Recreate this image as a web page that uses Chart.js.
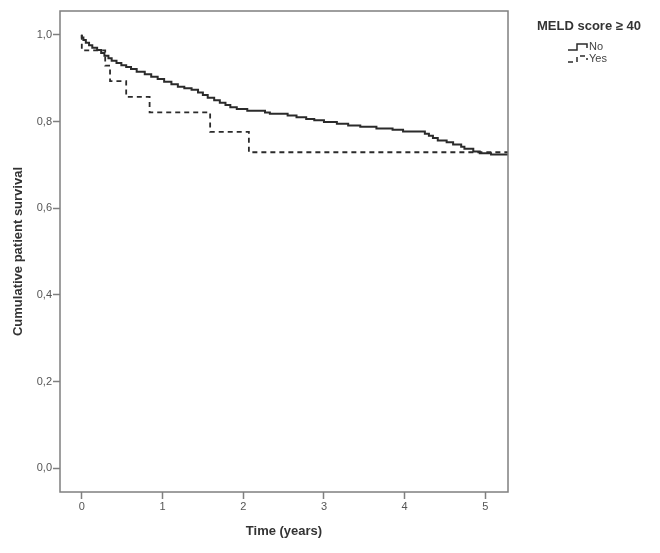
<!DOCTYPE html>
<html>
<head>
<meta charset="utf-8">
<title>Cumulative patient survival</title>
<script src="https://cdn.jsdelivr.net/npm/chart.js"></script>
<style>
  body { margin: 0; background: #fff; }
  #wrap { width: 660px; height: 553px; }
</style>
</head>
<body>
<div id="wrap"><canvas id="survivalChart" width="660" height="553"></canvas></div>
<script>
// Kaplan-Meier steps
const noTimes = [0, 0.02, 0.05, 0.09, 0.13, 0.19, 0.24, 0.28, 0.33, 0.37, 0.43, 0.49, 0.55, 0.61, 0.68, 0.78, 0.86, 0.94,
    1.02, 1.11, 1.19, 1.27, 1.36, 1.44, 1.50, 1.56, 1.64, 1.71, 1.78, 1.84, 1.92, 2.05, 2.27, 2.33, 2.55, 2.66, 2.78, 2.88,
    3.00, 3.16, 3.30, 3.45, 3.65, 3.85, 3.98, 4.25, 4.30, 4.35, 4.41, 4.52, 4.60, 4.70, 4.74, 4.85, 4.93, 5.07, 5.20, 5.28];
const noSurv = [1.000, 0.994, 0.988, 0.982, 0.976, 0.970, 0.965, 0.958, 0.952, 0.946, 0.940, 0.935, 0.930, 0.926, 0.921, 0.915, 0.909, 0.903,
    0.898, 0.892, 0.886, 0.880, 0.877, 0.873, 0.867, 0.861, 0.855, 0.849, 0.843, 0.838, 0.833, 0.829, 0.825, 0.821, 0.818, 0.814, 0.810, 0.806,
    0.803, 0.799, 0.795, 0.791, 0.788, 0.784, 0.781, 0.777, 0.772, 0.767, 0.762, 0.756, 0.752, 0.747, 0.742, 0.737, 0.731, 0.727, 0.724, 0.724];
const yesTimes = [0, 0.29, 0.35, 0.55, 0.84, 1.59, 2.07, 2.50, 5.28];
const yesSurv = [1.000, 0.964, 0.929, 0.893, 0.857, 0.821, 0.776, 0.729, 0.729];

const groupLabels = ['No', 'Yes'];
const legendTitle = 'MELD score \u2265 40';
const xTicks = [0, 1, 2, 3, 4, 5];
const yTicks = [0, 0.2, 0.4, 0.6, 0.8, 1.0];

const toPoints = (ts, ss) => ts.map((t, i) => ({x: t, y: ss[i]}));

const lineColor = '#2b2b2b';
const frameColor = '#7f7f7f';
const tickText = '#555555';
const fontFamily = '"Liberation Sans", Arial, sans-serif';

// frame around the plot area
const framePlugin = {
    id: 'frame',
    afterDraw(chart) {
        const a = chart.chartArea, ctx = chart.ctx;
        ctx.save();
        ctx.strokeStyle = frameColor;
        ctx.lineWidth = 1.5;
        ctx.strokeRect(a.left, a.top, a.right - a.left, a.bottom - a.top);
        ctx.restore();
    }
};

// SPSS style legend on the right
const legendPlugin = {
    id: 'kmLegend',
    afterDraw(chart) {
        const ctx = chart.ctx;
        const x0 = chart.chartArea.right + 29;
        ctx.save();
        ctx.fillStyle = '#333';
        ctx.font = 'bold 13px ' + fontFamily;
        ctx.textBaseline = 'middle';
        ctx.fillText(legendTitle, x0, 26);

        ctx.font = '11px ' + fontFamily;
        chart.data.datasets.forEach((ds, i) => {
            const y = 47 + i * 12;
            const sx = x0 + 31;
            ctx.strokeStyle = lineColor;
            ctx.lineWidth = 1.5;
            ctx.setLineDash(ds.borderDash || []);
            ctx.beginPath();
            ctx.moveTo(sx, y + 3);
            ctx.lineTo(sx + 9, y + 3);
            ctx.lineTo(sx + 9, y - 3);
            ctx.lineTo(sx + 19, y - 3);
            ctx.lineTo(sx + 19, y + 1);
            ctx.stroke();
            ctx.setLineDash([]);
            ctx.fillStyle = '#444';
            ctx.fillText(ds.label, sx + 21, y);
        });
        ctx.restore();
    }
};

const ctx = document.getElementById('survivalChart').getContext('2d');
new Chart(ctx, {
    type: 'line',
    data: {
        datasets: [{
            label: groupLabels[0],
            data: toPoints(noTimes, noSurv),
            borderColor: lineColor,
            borderWidth: 2,
            stepped: 'after',
            pointRadius: 0,
            fill: false
        }, {
            label: groupLabels[1],
            data: toPoints(yesTimes, yesSurv),
            borderColor: lineColor,
            borderWidth: 1.8,
            borderDash: [5, 4],
            stepped: 'after',
            pointRadius: 0,
            fill: false
        }]
    },
    options: {
        responsive: false,
        animation: false,
        layout: {padding: {top: 11, right: 152, left: 0, bottom: 0}},
        plugins: {legend: {display: false}, tooltip: {enabled: false}},
        scales: {
            x: {
                type: 'linear',
                min: -0.27,
                max: 5.28,
                afterBuildTicks: s => { s.ticks = xTicks.map(v => ({value: v})); },
                afterFit: s => { s.height = 61; },
                ticks: {color: tickText, font: {size: 11, family: fontFamily}, padding: 1},
                grid: {drawOnChartArea: false, tickLength: 7, tickColor: frameColor, tickWidth: 1.5},
                border: {display: false},
                title: {
                    display: true, text: 'Time (years)', color: '#333',
                    font: {size: 13, weight: 'bold', family: fontFamily}, padding: {top: 4, bottom: 14}
                }
            },
            y: {
                type: 'linear',
                min: -0.055,
                max: 1.055,
                afterBuildTicks: s => { s.ticks = yTicks.map(v => ({value: v})); },
                afterFit: s => { s.width = 60; },
                ticks: {
                    color: tickText, font: {size: 11, family: fontFamily}, padding: 1,
                    callback: v => v.toFixed(1).replace('.', ',')
                },
                grid: {drawOnChartArea: false, tickLength: 7, tickColor: frameColor, tickWidth: 1.5},
                border: {display: false},
                title: {
                    display: true, text: 'Cumulative patient survival', color: '#333',
                    font: {size: 13, weight: 'bold', family: fontFamily}, padding: {top: 11}
                }
            }
        }
    },
    plugins: [framePlugin, legendPlugin]
});
</script>
</body>
</html>
